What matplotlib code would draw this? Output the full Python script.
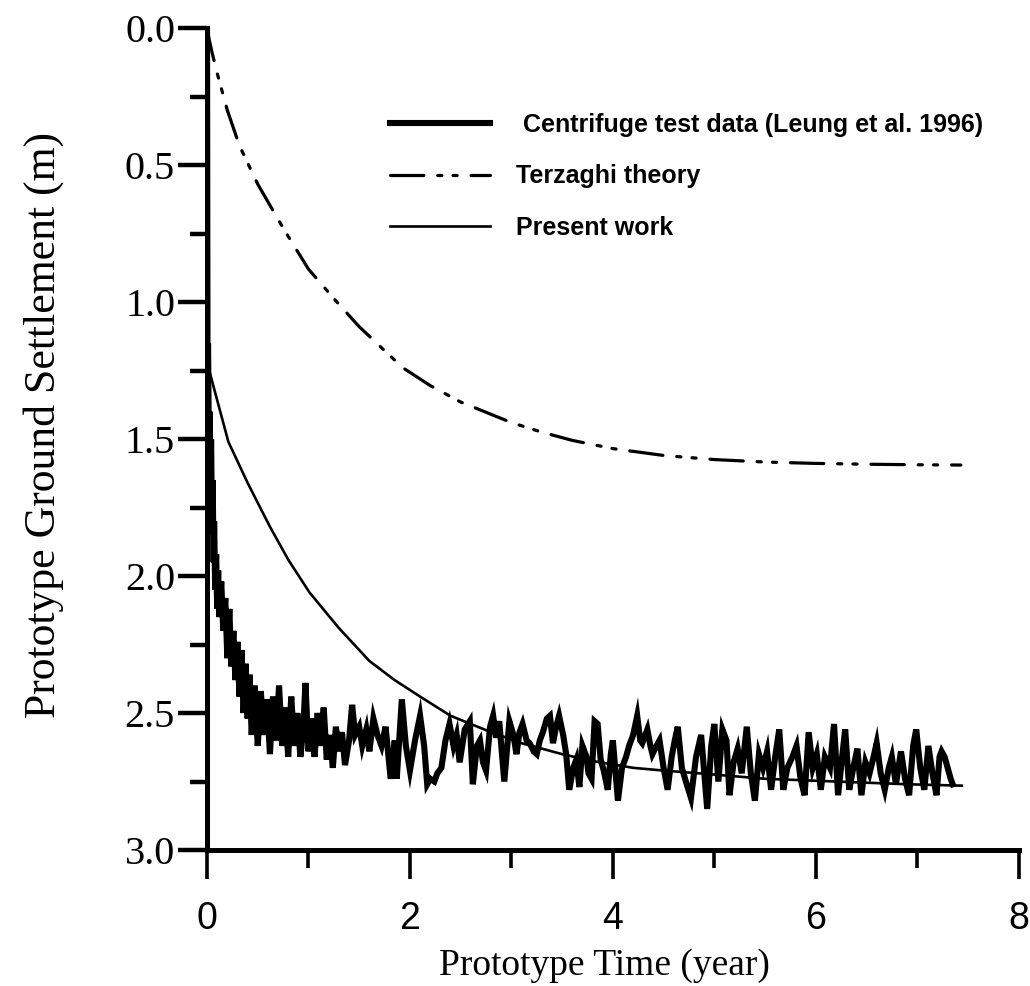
import matplotlib
matplotlib.use("Agg")
import matplotlib.pyplot as plt
from matplotlib.ticker import MultipleLocator, FormatStrFormatter

# ---------------- data ----------------
terzaghi_t = [0.0, 0.02, 0.05, 0.1, 0.2, 0.32, 0.5, 0.75, 1.0, 1.28, 1.5, 1.7, 1.93, 2.2, 2.5,
              2.8, 3.0, 3.3, 3.6, 4.0, 4.5, 5.0, 5.5, 6.0, 6.5, 7.0, 7.43]
terzaghi_s = [0.0, 0.04, 0.09, 0.165, 0.30, 0.43, 0.57, 0.73, 0.88, 1.0, 1.09, 1.16, 1.24, 1.305,
              1.365, 1.41, 1.44, 1.475, 1.505, 1.535, 1.56, 1.575, 1.584, 1.589, 1.592, 1.594, 1.595]

present_t = [0.0, 0.21, 0.4, 0.62, 0.8, 1.01, 1.3, 1.6, 1.85, 2.1, 2.4, 2.8, 3.1, 3.5, 3.8, 4.2,
             4.5, 4.85, 5.5, 6.2, 6.9, 7.44]
present_s = [1.22, 1.51, 1.66, 1.82, 1.94, 2.06, 2.19, 2.31, 2.38, 2.44, 2.51, 2.57, 2.61, 2.65,
             2.675, 2.70, 2.71, 2.72, 2.74, 2.75, 2.76, 2.765]

centrifuge_t = [
    0.00, 0.005, 0.01, 0.02, 0.025, 0.03, 0.04, 0.05, 0.055, 0.065, 0.07, 0.08, 0.09, 0.10,
    0.11, 0.12, 0.14, 0.16, 0.18, 0.20, 0.22, 0.24, 0.26, 0.28, 0.30, 0.32, 0.34, 0.36, 0.38,
    0.40, 0.42, 0.44, 0.47, 0.50, 0.53, 0.56, 0.59, 0.62, 0.65, 0.68, 0.71, 0.74, 0.77, 0.80,
    0.83, 0.86, 0.89, 0.92, 0.95, 0.97, 1.00, 1.03, 1.06, 1.09, 1.12, 1.15, 1.18, 1.21, 1.24,
    1.27, 1.30, 1.33, 1.36, 1.40, 1.43, 1.46, 1.50, 1.53, 1.57, 1.60, 1.64, 1.68, 1.72, 1.76,
    1.81, 1.85, 1.87, 1.92, 1.96, 2.00, 2.05, 2.10, 2.14, 2.17, 2.20, 2.24, 2.27, 2.31, 2.35,
    2.39, 2.43, 2.46, 2.49, 2.54, 2.59, 2.62, 2.66, 2.69, 2.72, 2.75, 2.79, 2.82, 2.85, 2.88,
    2.93, 2.98, 3.02, 3.05, 3.08, 3.11, 3.15, 3.18, 3.22, 3.25, 3.28, 3.31, 3.35, 3.38, 3.41,
    3.44, 3.47, 3.51, 3.54, 3.57, 3.61, 3.64, 3.67, 3.70, 3.74, 3.76, 3.79, 3.82, 3.85, 3.88,
    3.91, 3.95, 3.98, 4.00, 4.05, 4.09, 4.13, 4.16, 4.20, 4.24, 4.27, 4.29, 4.32, 4.34, 4.37,
    4.39, 4.43, 4.46, 4.50, 4.54, 4.58, 4.61, 4.64, 4.68, 4.72, 4.77, 4.82, 4.87, 4.93, 4.97,
    5.00, 5.04, 5.08, 5.12, 5.15, 5.19, 5.23, 5.27, 5.32, 5.36, 5.40, 5.44, 5.48, 5.52, 5.56,
    5.60, 5.64, 5.68, 5.72, 5.77, 5.81, 5.85, 5.89, 5.93, 5.97, 6.01, 6.05, 6.09, 6.14, 6.18,
    6.22, 6.26, 6.29, 6.33, 6.37, 6.41, 6.45, 6.49, 6.53, 6.57, 6.60, 6.64, 6.68, 6.72, 6.75,
    6.79, 6.84, 6.88, 6.92, 6.96, 6.99, 7.03, 7.07, 7.11, 7.15, 7.19, 7.22, 7.24, 7.27, 7.30,
    7.33, 7.35]
centrifuge_s = [
    0.00, 1.30, 1.15, 1.60, 1.40, 1.75, 1.50, 1.85, 1.65, 1.95, 1.80, 2.05, 1.92, 2.12,
    1.98, 2.15, 2.02, 2.20, 2.08, 2.30, 2.12, 2.33, 2.20, 2.38, 2.24, 2.44, 2.27, 2.50, 2.32,
    2.52, 2.36, 2.58, 2.40, 2.62, 2.42, 2.58, 2.45, 2.65, 2.44, 2.60, 2.40, 2.62, 2.48, 2.66,
    2.44, 2.62, 2.50, 2.66, 2.55, 2.39, 2.64, 2.52, 2.66, 2.50, 2.62, 2.48, 2.67, 2.58, 2.70,
    2.55, 2.64, 2.57, 2.69, 2.60, 2.47, 2.58, 2.55, 2.62, 2.56, 2.64, 2.52, 2.58, 2.62, 2.55,
    2.74, 2.60, 2.74, 2.45, 2.62, 2.71, 2.60, 2.51, 2.62, 2.76, 2.74, 2.75, 2.72, 2.70, 2.60,
    2.54, 2.62, 2.58, 2.68, 2.56, 2.53, 2.76, 2.62, 2.60, 2.68, 2.71, 2.55, 2.51, 2.59, 2.53,
    2.75, 2.53, 2.58, 2.65, 2.57, 2.54, 2.60, 2.61, 2.64, 2.65, 2.60, 2.57, 2.52, 2.51, 2.61,
    2.55, 2.51, 2.58, 2.65, 2.78, 2.70, 2.67, 2.77, 2.62, 2.66, 2.72, 2.74, 2.53, 2.54, 2.67,
    2.71, 2.78, 2.65, 2.60, 2.82, 2.70, 2.66, 2.62, 2.58, 2.51, 2.60, 2.61, 2.58, 2.56, 2.62,
    2.65, 2.62, 2.60, 2.70, 2.78, 2.66, 2.60, 2.55, 2.70, 2.75, 2.81, 2.66, 2.58, 2.85, 2.62,
    2.54, 2.75, 2.56, 2.60, 2.80, 2.68, 2.63, 2.72, 2.55, 2.72, 2.82, 2.65, 2.70, 2.64, 2.78,
    2.66, 2.56, 2.78, 2.70, 2.66, 2.62, 2.74, 2.80, 2.57, 2.70, 2.65, 2.78, 2.66, 2.70, 2.54,
    2.80, 2.66, 2.56, 2.78, 2.70, 2.63, 2.80, 2.68, 2.72, 2.66, 2.61, 2.72, 2.78, 2.70, 2.66,
    2.76, 2.64, 2.74, 2.80, 2.62, 2.56, 2.70, 2.78, 2.62, 2.72, 2.80, 2.66, 2.64, 2.66, 2.70,
    2.74, 2.76]

labels = [" Centrifuge test data (Leung et al. 1996)", "Terzaghi theory", "Present work"]
x_ticks = [0, 2, 4, 6, 8]
y_ticks = [0.0, 0.5, 1.0, 1.5, 2.0, 2.5, 3.0]

# ---------------- figure ----------------
plt.rcParams['lines.scale_dashes'] = False
fig = plt.figure(figsize=(10.30, 9.86), dpi=100)
ax = fig.add_axes([0.201, 0.1379, 0.788, 0.8337])

dash_terz = (0, (24, 10, 3, 8, 3, 10))

ax.plot(centrifuge_t, centrifuge_s, color='black', lw=4.4, solid_joinstyle='miter',
        label=labels[0], zorder=3)
ax.plot(terzaghi_t, terzaghi_s, color='black', lw=2.3, linestyle=dash_terz,
        dash_capstyle='round', label=labels[1], zorder=3)
ax.plot(present_t, present_s, color='black', lw=1.9, label=labels[2], zorder=3)

ax.set_xlim(0, 8)
ax.set_ylim(3.0, 0.0)

for s in ['top', 'right']:
    ax.spines[s].set_visible(False)
for s in ['left', 'bottom']:
    ax.spines[s].set_linewidth(3.6)
    ax.spines[s].set_capstyle('projecting')

ax.set_xticks(x_ticks)
ax.xaxis.set_minor_locator(MultipleLocator(1))
ax.set_yticks(y_ticks)
ax.yaxis.set_minor_locator(MultipleLocator(0.25))
ax.yaxis.set_major_formatter(FormatStrFormatter('%.1f'))

ax.tick_params(axis='y', which='major', direction='out', length=21, width=3.2, pad=2)
ax.tick_params(axis='y', which='minor', direction='out', length=12, width=3.2)
ax.tick_params(axis='x', which='major', direction='out', length=21, width=2.6, pad=16)
ax.tick_params(axis='x', which='minor', direction='out', length=13, width=2.6)

for lab in ax.get_yticklabels():
    lab.set_fontfamily('Liberation Serif')
    lab.set_fontsize(29)
for lab in ax.get_xticklabels():
    lab.set_fontfamily('Liberation Sans')
    lab.set_fontsize(27)

ax.set_xlabel("Prototype Time (year)", fontfamily='Liberation Serif', fontsize=27)
ax.xaxis.set_label_coords(0.49, -0.12)
ax.set_ylabel("Prototype Ground Settlement (m)", fontfamily='Liberation Serif', fontsize=31.5)
ax.yaxis.set_label_coords(-0.176, 0.517)

leg = ax.legend(loc='upper left', bbox_to_anchor=(0.198, 0.924), frameon=False,
                handlelength=4.0, handletextpad=1.05, labelspacing=1.1, borderpad=0.4,
                prop={'family': 'Liberation Sans', 'weight': 'bold', 'size': 18})

fig.savefig("out.png", dpi=100)
